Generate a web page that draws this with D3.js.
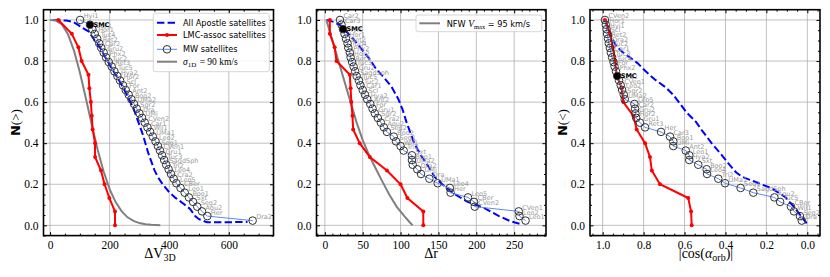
<!DOCTYPE html>
<html><head><meta charset="utf-8">
<script src="https://cdn.jsdelivr.net/npm/d3@7"></script>
<style>
body{margin:0;background:#fff}
svg text{font-family:"Liberation Serif",serif}
</style></head><body>
<script>
// cumulative fractions
const mwN = [1.000,0.977,0.955,0.932,0.909,0.886,0.864,0.841,0.818,0.795,0.773,0.750,0.727,0.705,0.682,0.659,0.636,0.614,0.591,0.568,0.545,0.523,0.500,0.477,0.455,0.432,0.409,0.386,0.364,0.341,0.318,0.295,0.273,0.250,0.227,0.205,0.182,0.159,0.136,0.114,0.091,0.068,0.045,0.023];
const lmcN = [1.0,0.933,0.867,0.8,0.733,0.667,0.6,0.533,0.467,0.4,0.333,0.267,0.2,0.133,0.067,0.0];

// panel 1: dV3D
const mwNames1 = ["Hyi1","SMC","Car3","Hor1","Tuc4","Ret2","Car2","Gru2","Phx2","Tuc2","Ret3","Tuc5","Hya2","Hor2","Scl","For","Ant2","Boo2","UMa2","Sgr2","Dra","UMi","CVen2","Car1","Wil1","UMa1","Leo2","Seg1","CVen1","Gru1","Tuc3","SagdSph","Tri2","Leo4","Cra2","Leo5","CBer","Leo1","Boo1","Sxt","Seg2","Aqu2","Her","Dra2"];
const mwDV = [101,134,142,150,158,165,172,180,188,197,207,216,226,235,245,254,264,273,282,291,300,309,318,327,336,345,354,362,369,376,383,390,398,406,415,424,438,452,466,480,494,510,528,680];
const lmcDV = [28,73,95,106,129,132,137,140,143,151,151,171,183,199,218,218];
const apoDVx = [10,55,78,95,110,129,150,168,185,207,226,246,263,280,292,302,312,320,330,340,350,362,378,398,420,448,470,487,500,527,600,663];
const apoDVy = [1.0,0.997,0.99,0.975,0.96,0.945,0.9,0.865,0.82,0.765,0.72,0.67,0.62,0.57,0.52,0.48,0.44,0.4,0.35,0.31,0.27,0.235,0.2,0.165,0.135,0.105,0.08,0.045,0.03,0.015,0.015,0.017];
const sigDVx = [0,20,40,60,80,100,120,140,160,180,200,220,240,260,280,300,320,340,370];
const sigDVy = [1.0,0.997,0.978,0.931,0.852,0.745,0.62,0.49,0.367,0.261,0.176,0.113,0.069,0.039,0.022,0.011,0.005,0.0025,0.001];

// panel 2: dr
const mwNames2 = ["Car2","Car3","SMC","Hyi1","Hor1","Ret2","Tuc4","Phx2","Hor2","Ret3","Tuc3","Gru2","SagdSph","Tuc5","Tuc2","Car1","Scl","Hya2","Ant2","For","Gru1","Sgr2","Cra2","Aqu2","Seg2","Boo2","Seg1","Wil1","Tri2","Sxt","Boo1","UMa2","Dra2","UMi","Dra","UMa1","Leo4","Her","Leo5","CBer","CVen2","CVen1","Leo2","Leo1"];
const mwDr = [20,22,24,26,28,30,31,33,34,36,38,40,42,45,47,50,53,56,60,63,66,70,74,78,82,91,94,100,104,115,115,116,122,127,138,149,165,166,189,197,198,256,257,265];
const lmcDr = [6.6,6.6,13,15.4,33,34,35,36.5,37.4,46,59.4,82,100,109,130,130];
const apoDrx = [2,12,20,28,38,48,58,68,78,88,97,103,108,113,118,128,137,145,155,170,188,210,230,245,257];
const apoDry = [1.0,0.99,0.975,0.945,0.905,0.86,0.815,0.76,0.72,0.675,0.615,0.56,0.5,0.45,0.4,0.334,0.285,0.236,0.2,0.155,0.115,0.085,0.045,0.02,0.008];
const nfwDrx = [2,10,20,30,42,50,58,66,75,85,95,105,112,116];
const nfwDry = [1.0,0.9,0.775,0.65,0.5,0.415,0.345,0.285,0.22,0.15,0.09,0.045,0.015,0.0];

// panel 3: |cos(alpha_orb)|
const mwNames3 = ["CVen2","Hor1","Hyi1","Scl","Ret2","Dra2","Tuc2","Car1","Tuc3","Tuc4","For","Phx2","SMC","Cra2","CVen1","Leo2","Sgr2","UMa2","Leo5","Car2","Gru2","Hor2","Gru1","Ret3","Her","Car3","Boo1","UMi","Ant2","Leo1","Hya2","Sxt","Boo2","Leo4","Tri2","UMa1","Seg1","SagdSph","Aqu2","Tuc5","CBer","Wil1","Seg2","Dra"];
const mwCos = [0.989,0.985,0.981,0.978,0.974,0.970,0.965,0.960,0.954,0.947,0.942,0.935,0.929,0.920,0.912,0.905,0.897,0.892,0.845,0.842,0.840,0.836,0.818,0.793,0.715,0.671,0.655,0.655,0.594,0.577,0.577,0.533,0.492,0.490,0.435,0.402,0.326,0.264,0.161,0.133,0.080,0.065,0.036,0.027];
const lmcCos = [0.989,0.964,0.95,0.94,0.932,0.907,0.899,0.85,0.834,0.793,0.769,0.76,0.72,0.582,0.568,0.565];
const apoCosx = [0.989,0.97,0.955,0.935,0.905,0.87,0.83,0.79,0.745,0.69,0.655,0.62,0.59,0.545,0.516,0.467,0.418,0.386,0.35,0.32,0.256,0.174,0.109,0.06,0.003];
const apoCosy = [1.0,0.955,0.915,0.875,0.845,0.82,0.79,0.75,0.71,0.67,0.635,0.59,0.55,0.505,0.464,0.399,0.342,0.302,0.26,0.237,0.212,0.18,0.139,0.083,0.01];

const yTicks = [0,0.2,0.4,0.6,0.8,1.0];

const svg = d3.select("body").append("svg").attr("width",830).attr("height",277);
const y = d3.scaleLinear().domain([-0.05,1.05]).range([235.6,9.7]);
const yTop = 9.7, yBot = 235.6;

function minorOf(dom, step, majors){
  const lo = d3.min(dom), hi = d3.max(dom);
  return d3.range(Math.ceil(lo/step)*step, hi, step)
    .filter(v => !majors.some(m => Math.abs(m-v) < step/10));
}

function panel(o){
  const x = d3.scaleLinear().domain(o.dom).range([o.x0,o.x1]);
  const g = svg.append("g");
  const line = d3.line().x(d=>x(d[0])).y(d=>y(d[1]));

  // grid
  g.selectAll(null).data(o.ticks).join("line")
    .attr("x1",d=>x(d)).attr("x2",d=>x(d)).attr("y1",yTop).attr("y2",yBot)
    .attr("stroke","#b0b0b0").attr("stroke-width",0.8);
  g.selectAll(null).data(yTicks).join("line")
    .attr("x1",o.x0).attr("x2",o.x1).attr("y1",d=>y(d)).attr("y2",d=>y(d))
    .attr("stroke","#b0b0b0").attr("stroke-width",0.8);

  // apostle
  g.append("path").datum(d3.zip(o.apoX,o.apoY)).attr("d",line)
    .attr("fill","none").attr("stroke","#0000ff").attr("stroke-width",2)
    .attr("stroke-dasharray","7.4,3.2");
  // model
  if (o.modX) g.append("path").datum(d3.zip(o.modX,o.modY)).attr("d",line)
    .attr("fill","none").attr("stroke","#808080").attr("stroke-width",2);
  // LMC
  const lmc = d3.zip(o.lmcX,lmcN);
  g.append("path").datum(lmc).attr("d",line)
    .attr("fill","none").attr("stroke","#ff0000").attr("stroke-width",2);
  g.selectAll(null).data(lmc).join("circle")
    .attr("cx",d=>x(d[0])).attr("cy",d=>y(d[1])).attr("r",2).attr("fill","#ff0000");
  // MW
  const mw = d3.zip(o.mwX,mwN,o.names);
  g.append("path").datum(mw).attr("d",line)
    .attr("fill","none").attr("stroke","#5b8def").attr("stroke-width",1);
  g.selectAll(null).data(mw).join("circle")
    .attr("cx",d=>x(d[0])).attr("cy",d=>y(d[1])).attr("r",3.8)
    .attr("fill","none").attr("stroke","#333").attr("stroke-width",1);
  g.selectAll(null).data(mw.filter(d=>d[2]!=="SMC")).join("text")
    .attr("x",d=>x(d[0])+3.5).attr("y",d=>y(d[1])-1.5)
    .style("font-family","DejaVu Sans").style("font-size","6.5px").attr("fill","#999")
    .text(d=>d[2]);
  const smc = mw.find(d=>d[2]==="SMC");
  g.append("circle").attr("cx",x(smc[0])).attr("cy",y(smc[1])).attr("r",3.4).attr("fill","#000");
  g.append("text").attr("x",x(smc[0])+3.5).attr("y",y(smc[1])+2.2)
    .style("font-family","DejaVu Sans").style("font-size","6.5px").style("font-weight","bold")
    .text("SMC");

  // ticks
  const mx = minorOf(o.dom,o.minor,o.ticks);
  const my = minorOf(y.domain(),0.05,yTicks);
  const axes = [
    [d3.axisBottom(x),`translate(0,${yBot})`,o.ticks,mx],
    [d3.axisTop(x),`translate(0,${yTop})`,o.ticks,mx],
    [d3.axisLeft(y),`translate(${o.x0},0)`,yTicks,my],
    [d3.axisRight(y),`translate(${o.x1},0)`,yTicks,my]
  ];
  axes.forEach(([ax,tr,maj,mn],i)=>{
    const a = g.append("g").attr("transform",tr).call(
      ax.tickValues(maj).tickSizeInner(-3.5).tickSizeOuter(0).tickPadding(5)
        .tickFormat(i===0 ? o.fmt : (i===2 ? d3.format(".1f") : "")));
    a.select(".domain").remove();
    a.selectAll("text").style("font-family","Liberation Serif").style("font-size","11.5px").attr("fill","#000");
    const b = g.append("g").attr("transform",tr).call(
      ax.tickValues(mn).tickSizeInner(-2).tickSizeOuter(0).tickFormat(""));
    b.select(".domain").remove();
  });
  g.append("rect").attr("x",o.x0).attr("y",yTop).attr("width",o.x1-o.x0).attr("height",yBot-yTop)
    .attr("fill","none").attr("stroke","#000").attr("stroke-width",1.6);
  return {g,x};
}

const p1 = panel({x0:43.5,x1:273.5,dom:[-22,750],ticks:[0,200,400,600],minor:50,fmt:d3.format("d"),
  apoX:apoDVx,apoY:apoDVy,modX:sigDVx,modY:sigDVy,lmcX:lmcDV,mwX:mwDV,names:mwNames1});
const p2 = panel({x0:316.5,x1:546,dom:[-11,292],ticks:[0,50,100,150,200,250],minor:10,fmt:d3.format("d"),
  apoX:apoDrx,apoY:apoDry,modX:nfwDrx,modY:nfwDry,lmcX:lmcDr,mwX:mwDr,names:mwNames2});
const p3 = panel({x0:590,x1:820,dom:[1.062,-0.062],ticks:[1.0,0.8,0.6,0.4,0.2,0.0],minor:0.05,fmt:d3.format(".1f"),
  apoX:apoCosx,apoY:apoCosy,lmcX:lmcCos,mwX:mwCos,names:mwNames3});

// axis labels
function ylab(cx, sym){
  const t = svg.append("text").attr("transform",`translate(${cx},${(yTop+yBot)/2}) rotate(-90)`)
    .attr("text-anchor","middle").attr("dominant-baseline","central").style("font-size","13px");
  t.append("tspan").style("font-family","DejaVu Sans").style("font-weight","bold").text("N");
  t.append("tspan").text("(" + sym + ")");
}
ylab(15,">");
ylab(562,"<");

function xlab(cx, parts){
  const t = svg.append("text").attr("x",cx).attr("y",258).attr("text-anchor","middle").style("font-size","14px");
  parts.forEach(p=>{
    const s = t.append("tspan").text(p.t);
    if (p.sub) s.attr("baseline-shift","-30%").style("font-size","10px");
    else s.attr("baseline-shift","0%");
    if (p.it) s.style("font-style","italic");
  });
}
xlab(160,[{t:"ΔV"},{t:"3D",sub:true}]);
xlab(431,[{t:"Δr"}]);
xlab(706,[{t:"|cos("},{t:"α",it:true},{t:"orb",sub:true},{t:")|"}]);

// legend panel 1
const lg = svg.append("g");
lg.append("rect").attr("x",153.3).attr("y",13.3).attr("width",116).attr("height",58.4).attr("rx",2)
  .attr("fill","#fff").attr("fill-opacity",0.85).attr("stroke","#ccc").attr("stroke-width",0.8);
const entries = [
  {y:22.7,label:"All Apostle satellites",c:"#0000ff",dash:"7.4,3.2"},
  {y:35,label:"LMC-assoc satellites",c:"#ff0000",dot:true},
  {y:49.3,label:"MW satellites",c:"#5b8def",w:1,circ:true},
  {y:61.7,sigma:true,c:"#808080"}
];
entries.forEach(e=>{
  lg.append("line").attr("x1",157).attr("x2",177).attr("y1",e.y).attr("y2",e.y)
    .attr("stroke",e.c).attr("stroke-width",e.w||2).attr("stroke-dasharray",e.dash||null);
  if (e.dot) lg.append("circle").attr("cx",167).attr("cy",e.y).attr("r",2).attr("fill",e.c);
  if (e.circ) lg.append("circle").attr("cx",167).attr("cy",e.y).attr("r",3.8).attr("fill","none").attr("stroke","#333");
  const t = lg.append("text").attr("x",183).attr("y",e.y+3);
  if (e.sigma){
    t.style("font-size","9.5px");
    t.append("tspan").style("font-style","italic").text("σ");
    t.append("tspan").attr("baseline-shift","-25%").style("font-size","7px").text("1D");
    t.append("tspan").attr("dx",1).attr("baseline-shift","0%").text(" = 90 km/s");
  } else {
    t.style("font-family","DejaVu Sans").style("font-size","8.2px").text(e.label);
  }
});

// legend panel 2
const lg2 = svg.append("g");
lg2.append("rect").attr("x",416).attr("y",15).attr("width",125.7).attr("height",16.7).attr("rx",2)
  .attr("fill","#fff").attr("fill-opacity",0.85).attr("stroke","#ccc").attr("stroke-width",0.8);
lg2.append("line").attr("x1",419.3).attr("x2",440).attr("y1",23.3).attr("y2",23.3)
  .attr("stroke","#808080").attr("stroke-width",2);
const t2 = lg2.append("text").attr("x",446.7).attr("y",26.5).style("font-size","8.2px");
t2.append("tspan").style("font-family","DejaVu Sans").text("NFW ");
t2.append("tspan").style("font-style","italic").style("font-size","9.5px").text("V");
t2.append("tspan").attr("baseline-shift","-25%").style("font-size","6.5px").text("max");
t2.append("tspan").attr("baseline-shift","0%").style("font-family","DejaVu Sans").text(" = 95 km/s");
</script>
</body></html>
